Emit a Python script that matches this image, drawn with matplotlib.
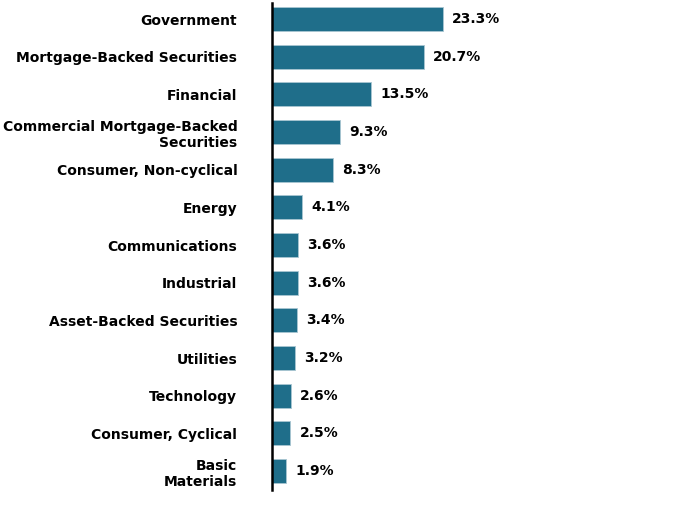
import matplotlib.pyplot as plt

# Sector weights
sectors = ["Government", "Mortgage-Backed Securities", "Financial",
           "Commercial Mortgage-Backed\nSecurities", "Consumer, Non-cyclical",
           "Energy", "Communications", "Industrial", "Asset-Backed Securities",
           "Utilities", "Technology", "Consumer, Cyclical", "Basic\nMaterials"]
weights = [23.3, 20.7, 13.5, 9.3, 8.3, 4.1, 3.6, 3.6, 3.4, 3.2, 2.6, 2.5, 1.9]

plt.rcParams['font.family'] = ['DejaVu Sans']

fig = plt.figure(figsize=(6.98, 5.14), dpi=100)
ax = fig.add_axes([272 / 698, 1 - 490 / 514, 1 - 272 / 698, 487 / 514])

pos = list(range(len(sectors)))
ax.barh(pos, weights, height=0.64, color="#1f6e8a", edgecolor="#a9c6d2", linewidth=0.6)

for p, w in zip(pos, weights):
    ax.annotate(f"{w:.1f}%", (w, p), xytext=(6.5, 0), textcoords="offset points",
                va="center", ha="left", fontsize=10, fontweight="bold")

ax.set_yticks(pos)
ax.set_yticklabels(sectors, fontsize=10, fontweight="bold", linespacing=1.25)
ax.tick_params(axis="y", length=0, pad=25)
ax.set_xticks([])
ax.set_xlim(0, 426 / 7.34)
ax.set_ylim(12.504, -0.425)

for s in ["top", "right", "bottom"]:
    ax.spines[s].set_visible(False)
ax.spines["left"].set_linewidth(1.8)

fig.savefig("out.png", dpi=100)
